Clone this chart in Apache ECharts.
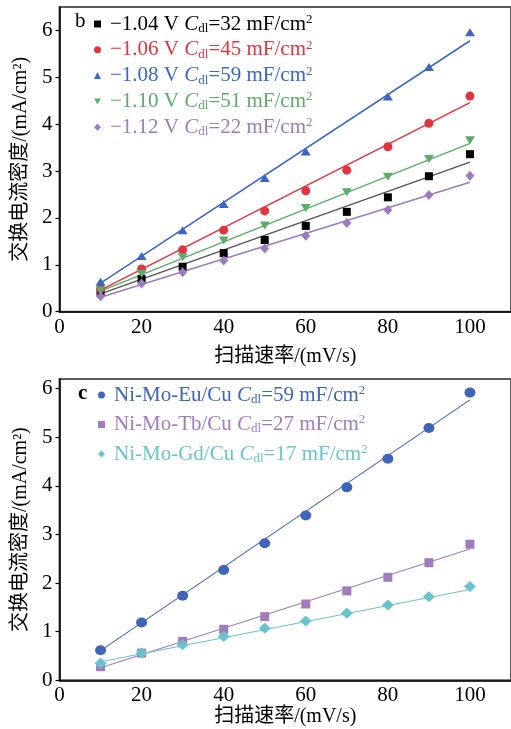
<!DOCTYPE html>
<html><head><meta charset="utf-8">
<script src="https://cdn.jsdelivr.net/npm/echarts@6/dist/echarts.min.js"></script>
<style>html,body{margin:0;padding:0;background:#fff}#c{width:511px;height:729px}</style>
</head><body><div id="c"></div><script>
// ---- data ----
const scanRates = [10, 20, 30, 40, 50, 60, 70, 80, 90, 100];
const xTicks = [0, 20, 40, 60, 80, 100];
const yTicks = [0, 1, 2, 3, 4, 5, 6];
// panel b
const v104 = [0.41, 0.70, 0.96, 1.25, 1.53, 1.83, 2.13, 2.44, 2.89, 3.36];
const v106 = [0.49, 0.91, 1.32, 1.74, 2.15, 2.58, 3.02, 3.52, 4.02, 4.60];
const v108 = [0.64, 1.19, 1.74, 2.30, 2.85, 3.42, null, 4.59, 5.22, 5.96];
const v110 = [0.45, 0.81, 1.16, 1.52, 1.84, 2.21, 2.55, 2.88, 3.26, 3.66];
const v112 = [0.33, 0.60, 0.84, 1.09, 1.35, 1.62, 1.89, 2.17, 2.49, 2.90];
const fitX = [10, 100];
const fit104 = [0.38, 3.19];
const fit106 = [0.46, 4.46];
const fit108 = [0.61, 5.78];
const fit110 = [0.44, 3.59];
const fit112 = [0.31, 2.76];
// panel c
const vEu = [0.62, 1.19, 1.74, 2.27, 2.82, 3.39, 3.97, 4.56, 5.19, 5.92];
const vTb = [0.28, 0.56, 0.80, 1.05, 1.31, 1.57, 1.84, 2.12, 2.42, 2.80];
const vGd = [0.35, 0.56, 0.73, 0.90, 1.07, 1.22, 1.38, 1.55, 1.72, 1.93];
const fitEu = [0.61, 5.77];
const fitTb = [0.26, 2.70];
const fitGd = [0.38, 1.87];
const namesB = ['−1.04 V', '−1.06 V', '−1.08 V', '−1.10 V', '−1.12 V'];
const cdlB = ['32', '45', '59', '51', '22'];
const namesC = ['Ni-Mo-Eu/Cu', 'Ni-Mo-Tb/Cu', 'Ni-Mo-Gd/Cu'];
const cdlC = ['59', '27', '17'];
const xName = '扫描速率/(mV/s)';
const yName = '交换电流密度/(mA/cm²)';

// ---- styling ----
const FONT = '"Liberation Serif", "Noto Sans CJK SC", serif';
const colorsB = ['#000000', '#e0353f', '#3d65c5', '#5daa6c', '#9a7cbf'];
const lineColorsB = ['#555555', '#e0353f', '#3d65c5', '#5daa6c', '#9a7cbf'];
const symbolsB = ['rect', 'circle', 'triangle', 'triangle', 'diamond'];
const rotB = [0, 0, 0, 180, 0];
const sizesB = [8, 9, [10, 8], [10, 8], [9, 10]];
const legendIconsB = ['rect', 'circle', 'triangle', 'path://M0,0 L10,0 L5,8 Z', 'diamond'];
const colorsC = ['#4064b8', '#a07cbd', '#6cc2cb'];
const symbolsC = ['circle', 'rect', 'diamond'];
const sizesC = [[11, 10], 9, [12, 11]];

const pts = arr => scanRates.map((x, i) => [x, arr[i] == null ? '-' : arr[i]]);
const line = arr => fitX.map((x, i) => [x, arr[i]]);

function rich(c, lead) {
  return {
    f: { fontFamily: FONT, fontSize: 21, color: c, lineHeight: 22, padding: [0, 0, 0, lead] },
    i: { fontFamily: FONT, fontSize: 21, fontStyle: 'italic', color: c, lineHeight: 22 },
    sub: { fontFamily: FONT, fontSize: 13, color: c, verticalAlign: 'bottom', lineHeight: 22 },
    sup: { fontFamily: FONT, fontSize: 13, color: c, verticalAlign: 'top', lineHeight: 22 },
    n: { fontFamily: FONT, fontSize: 21, color: c, lineHeight: 22 }
  };
}

const grids = [
  { left: 59.5, top: 7, width: 453.75, height: 304.7, show: true, borderColor: '#5a5a5a', borderWidth: 2, backgroundColor: 'transparent' },
  { left: 59.5, top: 379, width: 453.75, height: 301.3, show: true, borderColor: '#5a5a5a', borderWidth: 2, backgroundColor: 'transparent' }
];

function xAxis(gi, gap) {
  return {
    type: 'value', gridIndex: gi, min: 0, max: 110, interval: 20,
    name: xName, nameLocation: 'middle', nameGap: gap,
    nameTextStyle: { fontFamily: FONT, fontSize: 20, color: '#000' },
    axisLine: { lineStyle: { color: '#000', width: 1.5 } },
    axisTick: { show: false },
    splitLine: { show: false },
    axisLabel: { customValues: xTicks, fontFamily: FONT, fontSize: 21, color: '#000', margin: 5 }
  };
}
function yAxis(gi, max) {
  return {
    type: 'value', gridIndex: gi, min: 0, max: max,
    name: yName, nameLocation: 'middle', nameGap: 27,
    nameTextStyle: { fontFamily: FONT, fontSize: 20, color: '#000' },
    axisLine: { show: true, lineStyle: { color: '#000', width: 1.5 } },
    axisTick: { show: true, inside: false, length: 4, customValues: yTicks, lineStyle: { color: '#000', width: 1.2 } },
    splitLine: { show: false },
    axisLabel: { customValues: yTicks, fontFamily: FONT, fontSize: 21, color: '#000', margin: 7 }
  };
}

const series = [];
const dataB = [v104, v106, v108, v110, v112];
const fitB = [fit104, fit106, fit108, fit110, fit112];
dataB.forEach((d, k) => {
  series.push({ type: 'line', xAxisIndex: 0, yAxisIndex: 0, data: line(fitB[k]), showSymbol: false, silent: true,
    lineStyle: { color: lineColorsB[k], width: 1.5 }, z: 2 });
  series.push({ type: 'scatter', name: namesB[k], xAxisIndex: 0, yAxisIndex: 0, data: pts(d),
    symbol: symbolsB[k], symbolRotate: rotB[k], symbolSize: sizesB[k], itemStyle: { color: colorsB[k], opacity: 1 }, z: 3 });
});
const dataC = [vEu, vTb, vGd];
const fitC = [fitEu, fitTb, fitGd];
dataC.forEach((d, k) => {
  series.push({ type: 'line', xAxisIndex: 1, yAxisIndex: 1, data: line(fitC[k]), showSymbol: false, silent: true,
    lineStyle: { color: colorsC[k], width: 1.1 }, z: 2 });
  series.push({ type: 'scatter', name: namesC[k], xAxisIndex: 1, yAxisIndex: 1, data: pts(d),
    symbol: symbolsC[k], symbolSize: sizesC[k], itemStyle: { color: colorsC[k], opacity: 1 }, z: 3 });
});

const cdlMapB = {}; namesB.forEach((n, k) => cdlMapB[n] = cdlB[k]);
const cdlMapC = {}; namesC.forEach((n, k) => cdlMapC[n] = cdlC[k]);
const fmt = map => name => '{f|' + name + ' }{i|C}{sub|dl}{n|=' + map[name] + ' mF/cm}{sup|2}';

const option = {
  animation: false,
  backgroundColor: '#fff',
  grid: grids,
  xAxis: [xAxis(0, 35), xAxis(1, 26)],
  yAxis: [yAxis(0, 6.5), yAxis(1, 6.2)],
  title: [
    { text: 'b', left: 70, top: 6, textStyle: { fontFamily: FONT, fontSize: 21, fontWeight: 'normal', color: '#000' } },
    { text: 'c', left: 73, top: 378, textStyle: { fontFamily: FONT, fontSize: 21, fontWeight: 'bold', color: '#000' } }
  ],
  legend: [
    { orient: 'vertical', left: 94, top: 13, itemWidth: 7, itemHeight: 7, itemGap: 3.8, padding: 0,
      selectedMode: false, formatter: fmt(cdlMapB),
      data: namesB.map((n, k) => ({ name: n, icon: legendIconsB[k], itemStyle: { color: colorsB[k] },
        textStyle: { color: colorsB[k], fontFamily: FONT, fontSize: 21, lineHeight: 22, rich: rich(colorsB[k], 4) } })) },
    { orient: 'vertical', left: 98, top: 384, itemWidth: 7, itemHeight: 7, itemGap: 7.5, padding: 0,
      selectedMode: false, formatter: fmt(cdlMapC),
      data: namesC.map((n, k) => ({ name: n, icon: symbolsC[k], itemStyle: { color: colorsC[k] },
        textStyle: { color: colorsC[k], fontFamily: FONT, fontSize: 21, lineHeight: 22, rich: rich(colorsC[k], 4) } })) }
  ],
  series: series
};
const chart = echarts.init(document.getElementById('c'), null, { renderer: 'canvas' });
chart.setOption(option);
</script></body></html>
